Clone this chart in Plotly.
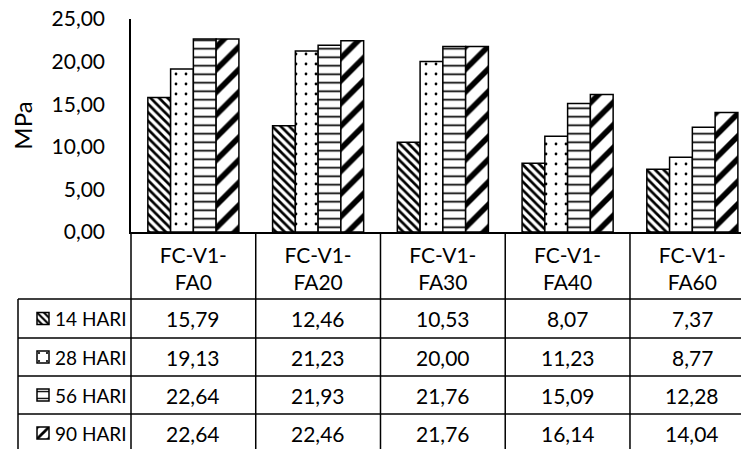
import plotly.graph_objects as go

categories = ["FC-V1-FA0", "FC-V1-FA20", "FC-V1-FA30", "FC-V1-FA40", "FC-V1-FA60"]
series_names = ["14 HARI", "28 HARI", "56 HARI", "90 HARI"]
hari_14 = [15.79, 12.46, 10.53, 8.07, 7.37]
hari_28 = [19.13, 21.23, 20.00, 11.23, 8.77]
hari_56 = [22.64, 21.93, 21.76, 15.09, 12.28]
hari_90 = [22.64, 22.46, 21.76, 16.14, 14.04]
y_ticks = [0, 5, 10, 15, 20, 25]

series_values = [hari_14, hari_28, hari_56, hari_90]
patterns = [
    dict(shape="\\", size=6, solidity=0.45),
    dict(shape=".", size=10, solidity=0.06),
    dict(shape="-", size=8.5, solidity=0.2),
    dict(shape="/", size=16, solidity=0.35),
]

W, H = 741, 449
ML, MT = 131, 19
PLOT_BOTTOM = 232
MB = H - PLOT_BOTTOM
PH = PLOT_BOTTOM - MT
PW = W - ML
XMIN, XMAX = -0.5, 4.39
FONT = "Lato"
FS = 21

def py(p):  # pixel row -> paper y
    return (PLOT_BOTTOM - p) / PH

def px(p):  # pixel column -> paper x
    return (p - ML) / PW

fig = go.Figure()
idx = list(range(len(categories)))
for k, (name, vals, pat) in enumerate(zip(series_names, series_values, patterns)):
    fig.add_trace(go.Bar(
        x=idx, y=vals, name="", showlegend=True,
        hovertemplate=name + ": %{y:.2f}<extra></extra>",
        marker=dict(color="white", line=dict(color="black", width=1.5),
                    pattern=dict(fgcolor="black", bgcolor="white", fillmode="replace", **pat)),
        legend="legend" if k == 0 else f"legend{k+1}",
    ))

row_lines = [299, 338, 376, 414, 452]
row_centers = [(row_lines[i] + row_lines[i + 1]) / 2 for i in range(4)]

shapes = []
line = dict(color="black", width=1.5)
for i in range(len(categories) - 1):
    shapes.append(dict(type="line", xref="x", yref="paper", x0=i + 0.5, x1=i + 0.5,
                       y0=0, y1=py(H + 5), line=line))
shapes.append(dict(type="line", xref="paper", yref="paper", x0=0, x1=0,
                   y0=0, y1=py(H + 5), line=line))
shapes.append(dict(type="line", xref="paper", yref="paper", x0=px(18), x1=px(18),
                   y0=py(row_lines[0]), y1=py(H + 5), line=line))
for r in row_lines[:4]:
    shapes.append(dict(type="line", xref="paper", yref="paper", x0=px(18), x1=1.01,
                       y0=py(r), y1=py(r), line=line))

annotations = []
for k, vals in enumerate(series_values):
    for i, v in enumerate(vals):
        annotations.append(dict(
            x=i, y=py(row_centers[k]), xref="x", yref="paper",
            text=f"{v:.2f}".replace(".", ","), showarrow=False,
            font=dict(family=FONT, size=FS, color="black"),
            xanchor="center", yanchor="middle"))
    annotations.append(dict(
        x=px(53), y=py(row_centers[k]), xref="paper", yref="paper",
        text=series_names[k], showarrow=False,
        font=dict(family=FONT, size=19, color="black"),
        xanchor="left", yanchor="middle"))

legends = {}
for k in range(4):
    key = "legend" if k == 0 else f"legend{k+1}"
    legends[key] = dict(
        x=px(23), xanchor="left", y=py(row_centers[k]), yanchor="middle",
        xref="paper", yref="paper", bgcolor="rgba(0,0,0,0)", borderwidth=0,
        font=dict(family=FONT, size=12, color="black"), itemwidth=30,
        itemclick=False, itemdoubleclick=False)

ticktext = [c.replace("FC-V1-", "FC-V1-<br>") for c in categories]

fig.update_layout(
    width=W, height=H,
    margin=dict(l=ML, r=0, t=MT, b=MB, autoexpand=False),
    paper_bgcolor="white", plot_bgcolor="white",
    separators=",.",
    barmode="group", bargap=0.27, bargroupgap=0,
    font=dict(family=FONT, size=FS, color="black"),
    showlegend=True,
    shapes=shapes, annotations=annotations,
    **legends,
)
fig.update_xaxes(
    range=[XMIN, XMAX], tickmode="array", tickvals=idx, ticktext=ticktext,
    showline=True, linecolor="black", linewidth=1.5, showgrid=False, zeroline=False,
    ticks="outside", ticklen=4, tickcolor="rgba(0,0,0,0)",
    tickfont=dict(family=FONT, size=FS, color="black"),
)
fig.update_yaxes(
    range=[0, 25], tickmode="array", tickvals=y_ticks, tickformat=".2f",
    showline=True, linecolor="black", linewidth=1.5, showgrid=False, zeroline=False,
    ticks="outside", ticklen=20, tickcolor="rgba(0,0,0,0)",
    tickfont=dict(family=FONT, size=FS, color="black"),
    title_text="MPa", title_font=dict(family=FONT, size=24, color="black"), title_standoff=12,
)

fig.write_html("out.html")
